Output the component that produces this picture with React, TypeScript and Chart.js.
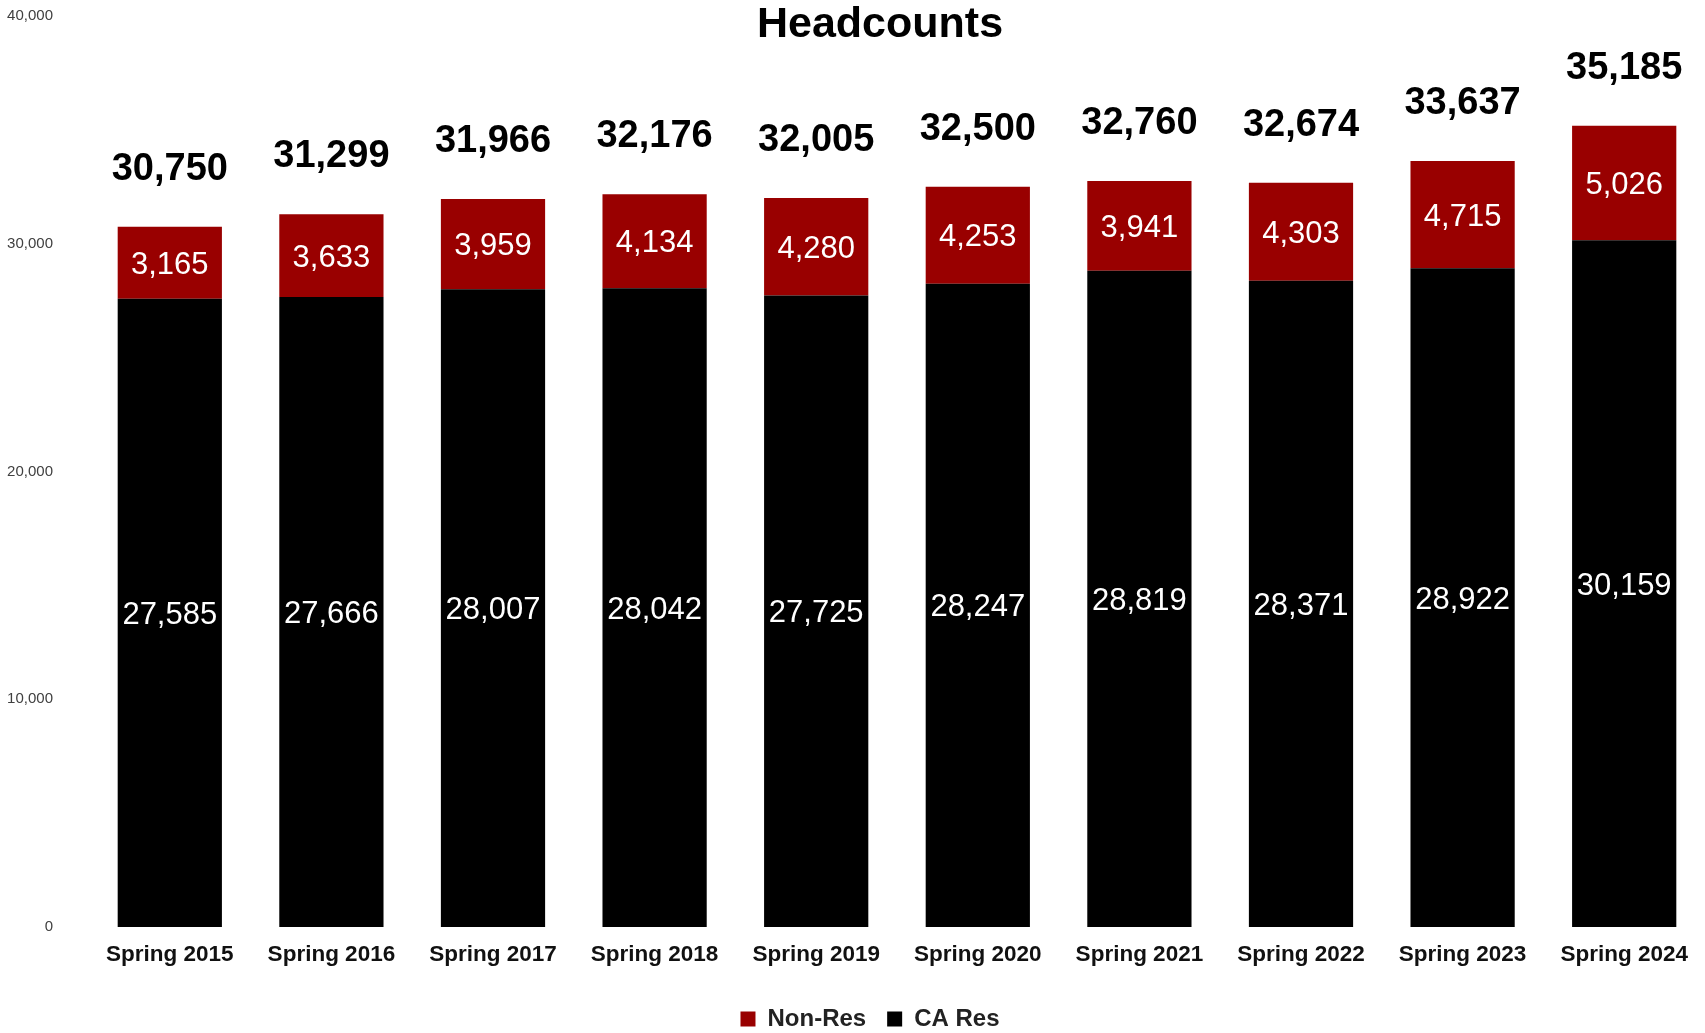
import { useEffect, useRef } from "react";
import { Chart, registerables } from "chart.js";

Chart.register(...registerables);

const categories = [
  "Spring 2015",
  "Spring 2016",
  "Spring 2017",
  "Spring 2018",
  "Spring 2019",
  "Spring 2020",
  "Spring 2021",
  "Spring 2022",
  "Spring 2023",
  "Spring 2024",
];
const caRes = [27585, 27666, 28007, 28042, 27725, 28247, 28819, 28371, 28922, 30159];
const nonRes = [3165, 3633, 3959, 4134, 4280, 4253, 3941, 4303, 4715, 5026];
const totals = [30750, 31299, 31966, 32176, 32005, 32500, 32760, 32674, 33637, 35185];
const yMin = 0;
const yMax = 40000;
const yStep = 10000;
const chartTitle = "Headcounts";

const FONT = "'Liberation Sans', Arial, Helvetica, sans-serif";
const fmt = (n: number) => n.toLocaleString("en-US");

export default function App() {
  const ref = useRef<HTMLCanvasElement | null>(null);

  useEffect(() => {
    if (!ref.current) return;

    const labelPlugin = {
      id: "barLabels",
      afterLayout(chart: any) {
        if (chart.legend) {
          chart.legend.left += 17.5;
          chart.legend.right += 17.5;
        }
      },
      afterDatasetsDraw(chart: any) {
        const ctx = chart.ctx as CanvasRenderingContext2D;
        ctx.save();
        ctx.textAlign = "center";
        ctx.textBaseline = "alphabetic";
        chart.data.datasets.forEach((ds: any, di: number) => {
          const meta = chart.getDatasetMeta(di);
          meta.data.forEach((bar: any, i: number) => {
            const { x, y, base } = bar.getProps(["x", "y", "base"], true);
            const mid = (y + base) / 2;
            ctx.font = `31px ${FONT}`;
            ctx.fillStyle = "#ffffff";
            ctx.fillText(fmt(ds.data[i]), x, mid + 11);
          });
        });
        const topMeta = chart.getDatasetMeta(1);
        topMeta.data.forEach((bar: any, i: number) => {
          const { x, y } = bar.getProps(["x", "y"], true);
          ctx.font = `bold 38px ${FONT}`;
          ctx.fillStyle = "#000000";
          ctx.fillText(fmt(totals[i]), x, y - 47);
        });
        ctx.font = `bold 43px ${FONT}`;
        ctx.fillStyle = "#000000";
        ctx.fillText(chartTitle, 880, 37);
        ctx.restore();
      },
    };

    const chart = new Chart(ref.current, {
      type: "bar",
      data: {
        labels: categories,
        datasets: [
          {
            label: "CA Res",
            data: caRes,
            backgroundColor: "#000000",
            borderWidth: 0,
          },
          {
            label: "Non-Res",
            data: nonRes,
            backgroundColor: "#990000",
            borderWidth: 0,
          },
        ],
      },
      options: {
        animation: false,
        responsive: true,
        maintainAspectRatio: false,
        layout: { padding: { left: 0, right: 0, top: 16, bottom: 0 } },
        datasets: {
          bar: { categoryPercentage: 1, barPercentage: 0.645 },
        },
        scales: {
          x: {
            stacked: true,
            grid: { display: false, drawTicks: false },
            border: { display: false },
            ticks: {
              padding: 14,
              color: "#111111",
              font: { family: FONT, size: 22.5, weight: "bold" },
            },
            afterFit(scale: any) {
              scale.height = 59;
            },
          },
          y: {
            stacked: true,
            min: yMin,
            max: yMax,
            grid: { display: false, drawTicks: false },
            border: { display: false },
            ticks: {
              stepSize: yStep,
              padding: 36,
              color: "#404040",
              font: { family: FONT, size: 15 },
              callback: (v: any) => fmt(Number(v)),
            },
            afterFit(scale: any) {
              scale.width = 89;
              scale.paddingTop = 0;
              scale.paddingBottom = 0;
            },
          },
        },
        plugins: {
          title: { display: false },
          tooltip: { enabled: false },
          legend: {
            display: true,
            position: "bottom",
            reverse: true,
            maxHeight: 47,
            labels: {
              boxWidth: 15,
              boxHeight: 15,
              padding: 21,
              color: "#222222",
              font: { family: FONT, size: 24, weight: "bold" },
            },
          },
        },
      },
      plugins: [labelPlugin],
    } as any);

    return () => chart.destroy();
  }, []);

  return (
    <div style={{ position: "absolute", left: 0, top: 0, width: 1705, height: 1033 }}>
      <canvas ref={ref} />
    </div>
  );
}
